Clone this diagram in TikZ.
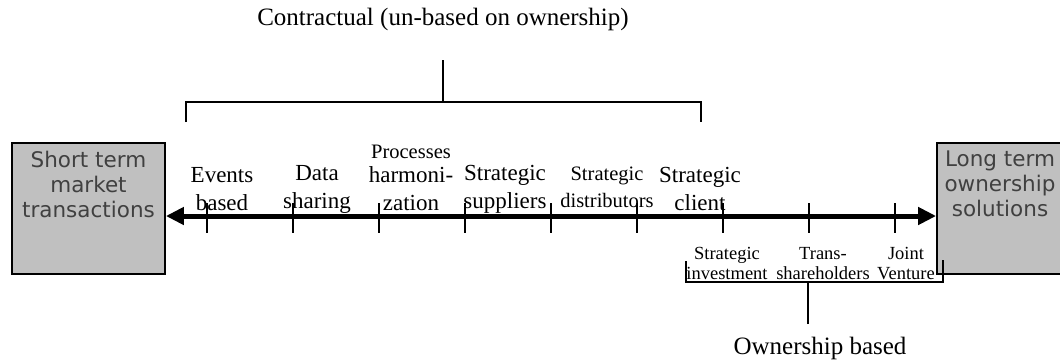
\documentclass[tikz,border=0pt]{standalone}
\usepackage{fontspec}
\setmainfont{Liberation Serif}
\newfontfamily\boxfont{DejaVu Sans}
\usetikzlibrary{arrows.meta}
\definecolor{boxgray}{RGB}{192,192,192}
\begin{document}
\begin{tikzpicture}[x=1pt,y=-1pt,
  endbox/.style={draw=black, line width=1.8pt, fill=boxgray, inner sep=0pt,
    minimum height=131pt},
  boxtext/.style={font=\boxfont\fontsize{21.5}{25}\selectfont, text=black!75,
    align=center, inner sep=0pt, anchor=north},
  biglabel/.style={font=\fontsize{23}{28}\selectfont, align=center, inner sep=0pt},
  midlabel/.style={font=\fontsize{20.5}{27}\selectfont, align=center, inner sep=0pt},
  smalllabel/.style={font=\fontsize{18.5}{19.5}\selectfont, align=center, inner sep=0pt},
  titlelabel/.style={font=\fontsize{25}{28}\selectfont, inner sep=0pt},
  spine/.style={line width=5pt, {Triangle[length=18pt,width=17pt]}-{Triangle[length=18pt,width=17pt]}},
  tick/.style={line width=1.5pt},
  bracket/.style={line width=1.8pt}
]
\clip (0,0) rectangle (1060,362);
\fill[white] (0,0) rectangle (1060,362);

% end boxes of the scale
\node[endbox, minimum width=153pt] (shortbox) at (88.5,208.5) {};
\node[endbox, minimum width=126pt] (longbox) at (1000,208.5) {};
\node[boxtext] (shorttxt) at ([yshift=-8.5pt]shortbox.north) {Short term\\market\\transactions};
\node[boxtext] (longtxt) at ([yshift=-8.5pt]longbox.north) {Long term\\ownership\\solutions};

% contractual forms above the scale
\node[biglabel] (ev) at (222,189) {Events\\based};
\node[biglabel] (ds) at (317,189) {Data\\sharing};
\node[midlabel] (pr0) at (411,152) {Processes};
\node[biglabel] (pr) at (411,189) {harmoni-\\zation};
\node[biglabel] (su) at (505,189) {Strategic\\suppliers};
\node[midlabel] (di) at (607,187) {Strategic\\distributors};
\node[biglabel] (cl) at (700,189) {Strategic\\client};

% ownership forms below the scale
\node[smalllabel] (si) at (727,263.5) {Strategic\\investment};
\node[smalllabel] (ts) at (823,263.5) {Trans-\\shareholders};
\node[smalllabel] (jv) at (906,263.5) {Joint\\Venture};

% group titles
\node[titlelabel] (contract) at (443,19) {Contractual (un-based on ownership)};
\node[titlelabel] (own) at (820,348) {Ownership based};

% main scale with tick marks
\coordinate (axis) at (0,216);
\draw[spine] (shortbox.east |- axis) -- (longbox.west |- axis);
\foreach \x in {207,293,379,465,551,637,723,809,895}
  \draw[tick] (\x,203) -- (\x,233);

% bracket of the contractual group
\coordinate (ctop) at (443,60);
\draw[bracket] (186,122) -- (186,102) -- (701,102) -- (701,122);
\draw[bracket] (ctop) -- (ctop |- 0,102);

% bracket of the ownership group
\coordinate (obot) at (808,324);
\draw[bracket] (686,261) -- (686,282) -- (943,282) -- (943,260);
\draw[bracket] (obot) -- (obot |- 0,282);
\end{tikzpicture}
\end{document}
